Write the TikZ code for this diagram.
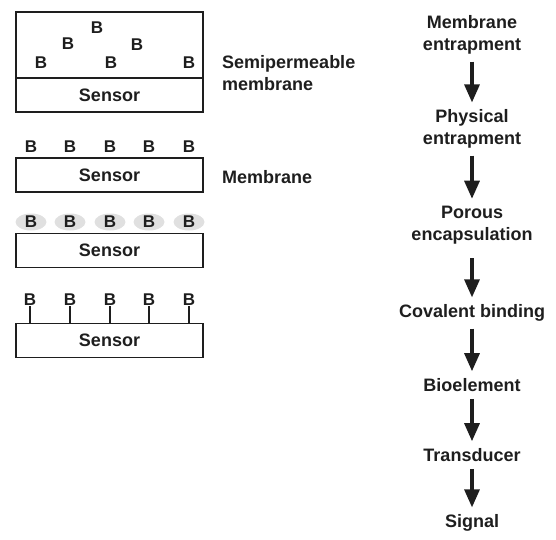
\documentclass[tikz,border=0pt]{standalone}
\usepackage{fontspec}
\setmainfont{Liberation Sans}
\usetikzlibrary{arrows.meta,shapes.geometric}
\definecolor{ink}{HTML}{1E1E1E}
\definecolor{blob}{HTML}{E0E0E0}
\tikzset{
  every node/.style={text=ink, font=\fontsize{18}{22}\selectfont\bfseries, inner sep=0pt},
  bel/.style={font=\fontsize{17}{20}\selectfont\bfseries},
  boxs/.style={draw=ink, line width=1.6pt, minimum width=187pt, minimum height=34pt},
  upper/.style={draw=ink, line width=1.6pt, minimum width=187pt, minimum height=66pt},
  stem/.style={draw=ink, line width=1.6pt},
  halo/.style={ellipse, fill=blob, minimum width=31pt, minimum height=17pt},
  flow/.style={draw=ink, line width=3.2pt, -{Triangle[width=15pt,length=18pt]}, shorten <=7pt, shorten >=7pt},
  lab/.style={align=center},
  side/.style={align=left, anchor=west}
}
\begin{document}
\begin{tikzpicture}[x=1pt,y=-1pt]
\useasboundingbox (0,0) rectangle (556,539);
% Box 1
\node[upper] (u1) at (109.5,45) {};
\node[boxs] (s1) at (109.5,95) {Sensor};
\node[bel] (b11) at (97,28) {B};
\node[bel] (b12) at (68,44) {B};
\node[bel] (b13) at (137,45) {B};
\node[bel] (b14) at (41,63) {B};
\node[bel] (b15) at (111,63) {B};
\node[bel] (b16) at (189,63) {B};
\node[side] (t1) at (222,73) {Semipermeable\\membrane};
% Box 2
\node[boxs] (s2) at (109.5,175) {Sensor};
\foreach \i/\x in {1/31,2/70,3/110,4/149,5/189}{
  \node[bel] (b2\i) at (\x,147) {B};
}
\node[side] (t2) at (222,177) {Membrane};
% Box 3
\foreach \i/\x in {1/31,2/70,3/110,4/149,5/189}{
  \node[halo] (h3\i) at (\x,222) {};
  \node[bel] (b3\i) at (\x,222) {B};
}
\node[boxs] (s3) at (109.5,250.5) {Sensor};
% Box 4
\node[boxs] (s4) at (109.5,340.5) {Sensor};
\foreach \i/\x in {1/30,2/70,3/110,4/149,5/189}{
  \node[bel] (b4\i) at (\x,300) {B};
  \draw[stem] (b4\i.south) -- (b4\i.south |- s4.north);
}
% Right flow
\node[lab] (r1) at (472,35) {Membrane\\entrapment};
\node[lab] (r2) at (472,129) {Physical\\entrapment};
\node[lab] (r3) at (472,225) {Porous\\encapsulation};
\node[lab] (r4) at (472,313) {Covalent binding};
\node[lab] (r5) at (472,385) {Bioelement};
\node[lab] (r6) at (472,455) {Transducer};
\node[lab] (r7) at (472,523) {Signal};
\draw[flow] (r1) -- (r2);
\draw[flow] (r2) -- (r3);
\draw[flow, shorten <=14pt] (r3) -- (r4);
\draw[flow] (r4) -- (r5);
\draw[flow] (r5) -- (r6);
\draw[flow] (r6) -- (r7);
\end{tikzpicture}
\end{document}
